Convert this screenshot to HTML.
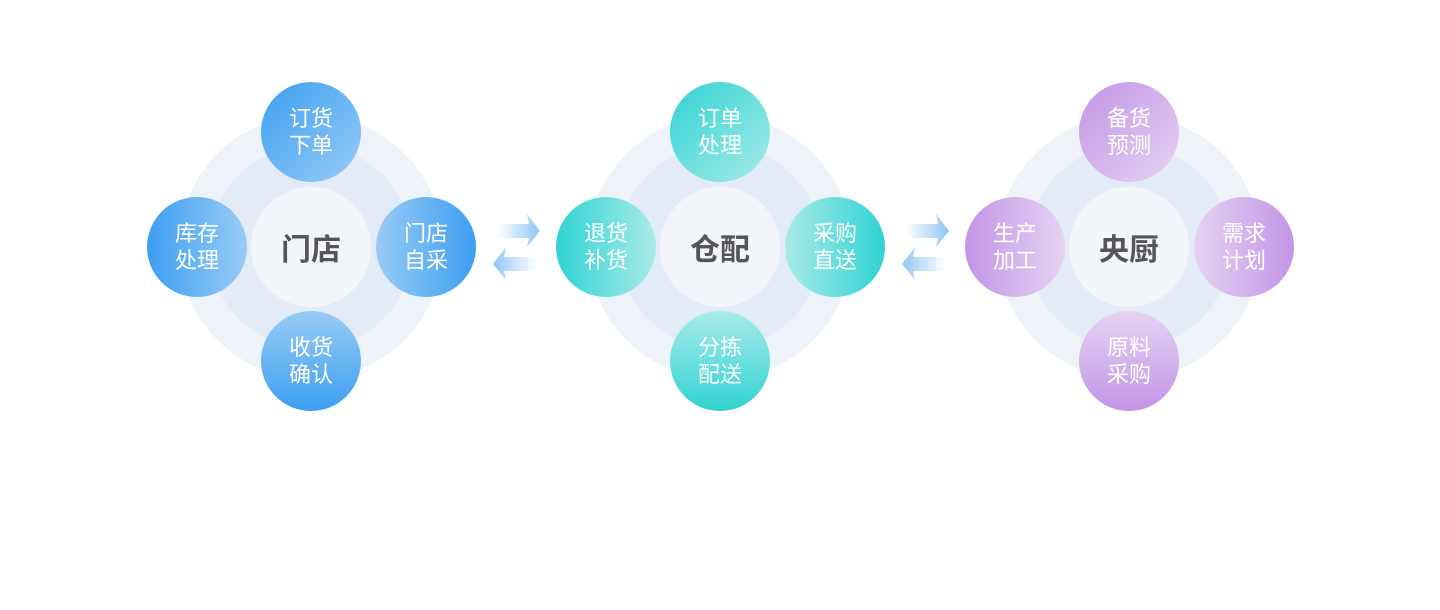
<!DOCTYPE html>
<html><head><meta charset="utf-8"><style>
body{margin:0;width:1440px;height:610px;background:#fff;position:relative;overflow:hidden;font-family:"Liberation Sans","Noto Sans CJK SC",sans-serif}
.c{position:absolute;border-radius:50%}
.r1{width:264px;height:264px;background:#eef3f9}
.r2{width:204px;height:204px;background:#e3ecf6}
.ctr{width:120px;height:120px;background:#f2f5fa;display:flex;align-items:center;justify-content:center;font-size:30px;font-weight:bold;color:#555}
.s{width:100px;height:100px;display:flex;align-items:center;justify-content:center;text-align:center;color:#fff;font-size:22px;line-height:27px}
</style></head><body>
<div id="root"></div>
<svg width="1440" height="610" style="position:absolute;left:0;top:0">
<defs>
<linearGradient id="ar" x1="0" x2="1"><stop offset="0" stop-color="#fff"/><stop offset="1" stop-color="#8fc6f5"/></linearGradient>
<linearGradient id="al" x1="1" x2="0"><stop offset="0" stop-color="#fff"/><stop offset="1" stop-color="#8fc6f5"/></linearGradient>
</defs>
<g id="arr"></g>
</svg>
<script>
const groups=[
 {x:311,name:"门店",c1:"#3d9ff1",c2:"#98cbf6",items:["订货<br>下单","门店<br>自采","收货<br>确认","库存<br>处理"]},
 {x:720,name:"仓配",c1:"#2ed3d2",c2:"#a9ebe9",items:["订单<br>处理","采购<br>直送","分拣<br>配送","退货<br>补货"]},
 {x:1129,name:"央厨",c1:"#c394e6",c2:"#e6d3f3",items:["备货<br>预测","需求<br>计划","原料<br>采购","生产<br>加工"]}
];
let h="";const cy=247;
groups.forEach(g=>{
 h+=`<div class="c r1" style="left:${g.x-132}px;top:${cy-132}px"></div>`;
 h+=`<div class="c r2" style="left:${g.x-102}px;top:${cy-102}px"></div>`;
 h+=`<div class="c ctr" style="left:${g.x-60}px;top:${cy-60}px">${g.name}</div>`;
 const dirs=[[0,-115,"to top left"],[115,0,"to right"],[0,114,"to bottom"],[-114,0,"to left"]];
 dirs.forEach((d,i)=>{
  h+=`<div class="c s" style="left:${g.x+d[0]-50}px;top:${cy+d[1]-50}px;background:linear-gradient(${d[2]},${g.c2},${g.c1})">${g.items[i]}</div>`;
 });
});
document.getElementById("root").innerHTML=h;
let a="";
[497,906].forEach(x=>{
 a+=`<polygon points="${x},224 ${x+32},224 ${x+30},214 ${x+43},231 ${x+30},247 ${x+32},238 ${x},238" fill="url(#ar)"/>`;
 a+=`<polygon points="${x+39},257 ${x+7},257 ${x+9},247 ${x-4},264 ${x+9},280 ${x+7},271 ${x+39},271" fill="url(#al)"/>`;
});
document.getElementById("arr").innerHTML=a;
</script>
</body></html>
